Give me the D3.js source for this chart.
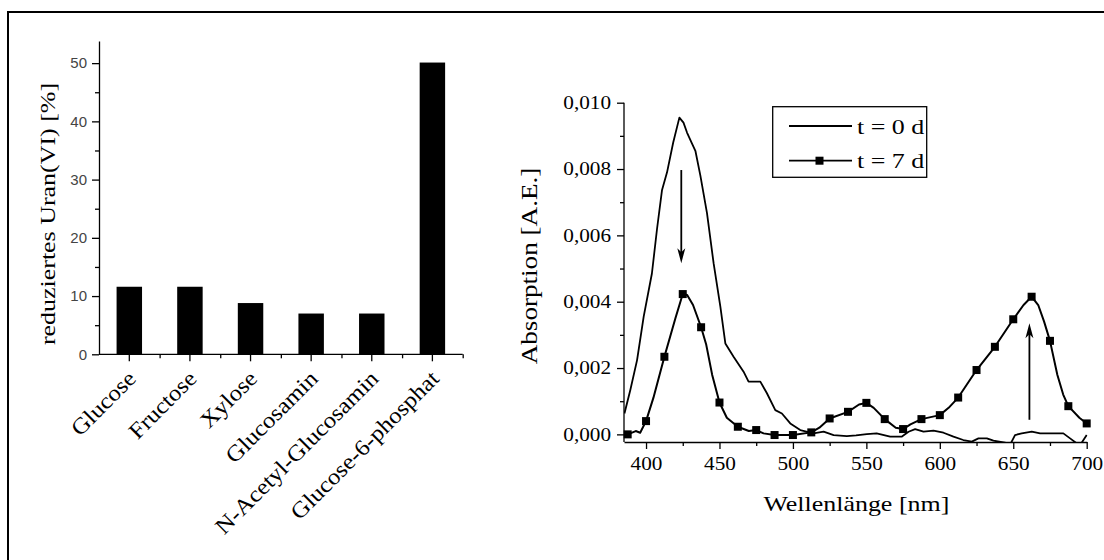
<!DOCTYPE html>
<html>
<head>
<meta charset="utf-8">
<script src="https://cdn.jsdelivr.net/npm/d3@7"></script>
<style>
  html, body { margin: 0; padding: 0; background: #fff; }
  svg { display: block; }
</style>
</head>
<body>
<svg id="chart" width="1104" height="560"></svg>
<script>
// ---------- data ----------
const categories = ["Glucose", "Fructose", "Xylose", "Glucosamin", "N-Acetyl-Glucosamin", "Glucose-6-phosphat"];
const reducedUranium = [11.6, 11.6, 8.8, 7.0, 7.0, 50.1];
const barYTicks = [0, 10, 20, 30, 40, 50];
const barYMinorTicks = [5, 15, 25, 35, 45];
const barYTitle = "reduziertes Uran(VI) [%]";

const t0Wavelength = [385.3, 389.3, 393.9, 398.4, 404, 407.5, 410.9, 414.3, 418.5, 422.7, 425.5, 427.9, 431, 433.6, 437, 441.5, 446, 450.6, 454, 459.6, 466.4, 469.8, 477.8, 482.3, 488, 492.5, 498.2, 505, 514, 520.9, 527.7, 536.7, 543, 550.3, 557, 566.2, 574, 578.7, 583.2, 588.9, 595.7, 602.5, 609.3, 616, 621.8, 626.3, 632, 636.5, 644.4, 648, 651.2, 655.8, 662.6, 668.3, 672.8, 684.1, 688.7, 693.2, 696.6, 700];
const t0Absorption = [0.00063, 0.00134, 0.00224, 0.00355, 0.00485, 0.0062, 0.00737, 0.0079, 0.0088, 0.00955, 0.0094, 0.0091, 0.0088, 0.00855, 0.0078, 0.00667, 0.00516, 0.00385, 0.00274, 0.00234, 0.00189, 0.00159, 0.00159, 0.00124, 0.00073, 0.00063, 0.00033, 0.00013, 0.00003, 0.00008, -0.00002, -0.00005, -0.00003, 0.00001, 0.00003, -0.00007, -0.00007, 0.00008, 0.00016, 0.00008, 0.00011, 0.00005, -0.00007, -0.00017, -0.00022, -0.00012, -0.00012, -0.00019, -0.00025, -0.0003, -0.00002, 0.00003, 0.00008, 0.00003, 0.00003, 0.00003, -0.00012, -0.00027, -0.00025, -0.00002];

const t7Wavelength = [385, 387.5, 393, 396, 400, 405, 412.5, 420, 425, 428, 432, 437.5, 441, 445, 450, 455, 462.5, 470, 475, 480, 487.5, 500, 512.5, 518, 525, 537.5, 545, 550, 555, 562.5, 570, 575, 580, 587.5, 600, 606, 612.5, 625, 637.5, 650, 657, 662.5, 667, 671, 675, 680, 684, 687.5, 695, 700];
const t7Absorption = [0.00005, 0.0, 0.0001, 0.00005, 0.0004, 0.0011, 0.00234, 0.0035, 0.00423, 0.0042, 0.0039, 0.00323, 0.0027, 0.0018, 0.00096, 0.0005, 0.00023, 0.0001, 0.00013, 0.00003, -0.00002, -0.00002, 0.00006, 0.0002, 0.00048, 0.00068, 0.0009, 0.00095, 0.0008, 0.00046, 0.0002, 0.00016, 0.0003, 0.00046, 0.00058, 0.0008, 0.00111, 0.00194, 0.00264, 0.00347, 0.0039, 0.00415, 0.0039, 0.0034, 0.00282, 0.0018, 0.0012, 0.00085, 0.0005, 0.00033];
const t7MarkerWavelength = [387.5, 400, 412.5, 425, 437.5, 450, 462.5, 475, 487.5, 500, 512.5, 525, 537.5, 550, 562.5, 575, 587.5, 600, 612.5, 625, 637.5, 650, 662.5, 675, 687.5, 700];

const specXTicks = [400, 450, 500, 550, 600, 650, 700];
const specXTickLabels = ["400", "450", "500", "550", "600", "650", "700"];
const specXMinorTicks = [425, 475, 525, 575, 625, 675];
const specYTicks = [0, 0.002, 0.004, 0.006, 0.008, 0.010];
const specYTickLabels = ["0,000", "0,002", "0,004", "0,006", "0,008", "0,010"];
const specYMinorTicks = [0.001, 0.003, 0.005, 0.007, 0.009];
const specXTitle = "Wellenlänge [nm]";
const specYTitle = "Absorption [A.E.]";
const legendLabels = ["t = 0 d", "t = 7 d"];

// annotation arrows: [wavelength, from, to]
const arrowWavelength = [424, 661];
const arrowFrom = [0.00797, 0.00044];
const arrowTo = [0.00516, 0.00335];

// ---------- drawing ----------
const svg = d3.select("#chart");
const SX = 1.18; // horizontal text stretch of the original rendering
const serifFont = "'Liberation Serif', 'Times New Roman', serif";
const sansFont = "'Liberation Sans', Arial, sans-serif";

// frame
svg.append("line").attr("x1", 7).attr("x2", 1104).attr("y1", 12).attr("y2", 12)
  .attr("stroke", "#000").attr("stroke-width", 2);
svg.append("line").attr("x1", 8).attr("x2", 8).attr("y1", 11).attr("y2", 560)
  .attr("stroke", "#000").attr("stroke-width", 2);

// ===== Left: bar chart =====
const bx0 = 99, bx1 = 462.7, by0 = 354.3, by1 = 41;
const xBand = d3.scaleBand().domain(categories).range([bx0, bx1]).paddingInner(0.58).paddingOuter(0.29);
const yBar = d3.scaleLinear().domain([0, 53.8]).range([by0, by1]);
const xIdx = d3.scaleLinear().domain([0, categories.length]).range([bx0, bx1]);

const left = svg.append("g");
left.selectAll("rect.bar").data(categories).join("rect")
  .attr("class", "bar")
  .attr("x", d => xBand(d))
  .attr("width", xBand.bandwidth())
  .attr("y", (d, i) => yBar(reducedUranium[i]))
  .attr("height", (d, i) => yBar(0) - yBar(reducedUranium[i]))
  .attr("fill", "#000");

function styleAxis(g, w) {
  g.selectAll("path.domain").attr("stroke", "#000").attr("stroke-width", w);
  g.selectAll(".tick line").attr("stroke", "#000").attr("stroke-width", w);
}

const yAxisL = left.append("g").attr("transform", `translate(${bx0},0)`)
  .call(d3.axisLeft(yBar).tickValues(barYTicks).tickSize(7).tickSizeOuter(0).tickPadding(5));
yAxisL.selectAll("text").style("font-family", sansFont).style("font-size", "15px").attr("fill", "#444");
styleAxis(yAxisL, 1.3);
const yMinorL = left.append("g").attr("transform", `translate(${bx0},0)`)
  .call(d3.axisLeft(yBar).tickValues(barYMinorTicks).tickSize(4).tickFormat(""));
yMinorL.select("path.domain").remove();
styleAxis(yMinorL, 1.3);

const xAxisL = left.append("g").attr("transform", `translate(0,${by0})`)
  .call(d3.axisBottom(xBand).tickSize(7).tickSizeOuter(0).tickFormat(""));
styleAxis(xAxisL, 1.3);
xAxisL.select("path.domain").attr("d", `M${bx0},0H${bx1}`);
const xMinorL = left.append("g").attr("transform", `translate(0,${by0})`)
  .call(d3.axisBottom(xIdx).tickValues(d3.range(1, categories.length + 1)).tickSize(4).tickFormat(""));
xMinorL.select("path.domain").remove();
styleAxis(xMinorL, 1.3);

// category labels
left.selectAll("text.cat").data(categories).join("text")
  .attr("class", "cat")
  .attr("transform", d => `translate(${xBand(d) + xBand.bandwidth() / 2 + 8},380) rotate(-45) scale(1.1,1)`)
  .attr("text-anchor", "end")
  .style("font-family", serifFont).style("font-size", "22.5px")
  .text(d => d);

// y title
left.append("text")
  .attr("transform", `translate(55,214) rotate(-90) scale(${SX},1)`)
  .attr("text-anchor", "middle")
  .style("font-family", serifFont).style("font-size", "22px")
  .text(barYTitle);

// ===== Right: spectra =====
const sx0 = 624, sx1 = 1086.7, sy0 = 442, sy1 = 102.7;
const xS = d3.scaleLinear().domain([385, 700]).range([sx0, sx1]);
const yS = d3.scaleLinear().domain([-0.00023, 0.010]).range([sy0, sy1]);

const right = svg.append("g");
svg.append("defs").append("clipPath").attr("id", "plotclip")
  .append("rect").attr("x", sx0).attr("y", 90).attr("width", sx1 - sx0 + 1).attr("height", sy0 - 90);

const lineGen = d3.line().x(d => xS(d[0])).y(d => yS(d[1]));
const t0Data = t0Wavelength.map((w, i) => [w, t0Absorption[i]]);
const t7Data = t7Wavelength.map((w, i) => [w, t7Absorption[i]]);
const t7Markers = t7MarkerWavelength.map(w => [w, t7Absorption[t7Wavelength.indexOf(w)]]);

const plot = right.append("g").attr("clip-path", "url(#plotclip)");
plot.append("path").datum(t0Data).attr("d", lineGen)
  .attr("fill", "none").attr("stroke", "#000").attr("stroke-width", 1.8).attr("stroke-linejoin", "round");
plot.append("path").datum(t7Data).attr("d", lineGen)
  .attr("fill", "none").attr("stroke", "#000").attr("stroke-width", 2).attr("stroke-linejoin", "round");
const MS = 8;
right.selectAll("rect.mk").data(t7Markers).join("rect")
  .attr("class", "mk")
  .attr("x", d => xS(d[0]) - MS / 2).attr("y", d => yS(d[1]) - MS / 2)
  .attr("width", MS).attr("height", MS).attr("fill", "#000");

// axes
const yAxisR = right.append("g").attr("transform", `translate(${sx0},0)`)
  .call(d3.axisLeft(yS).tickValues(specYTicks).tickSize(7).tickSizeOuter(0).tickPadding(4)
    .tickFormat((d, i) => specYTickLabels[i]));
yAxisR.select("path.domain").attr("d", `M0,${sy0}V${sy1}`);
yAxisR.selectAll("text").style("font-family", serifFont).style("font-size", "18px")
  .attr("fill", "#000").attr("transform", `scale(${SX},1)`);
styleAxis(yAxisR, 1.3);
const yMinorR = right.append("g").attr("transform", `translate(${sx0},0)`)
  .call(d3.axisLeft(yS).tickValues(specYMinorTicks).tickSize(4).tickFormat(""));
yMinorR.select("path.domain").remove();
styleAxis(yMinorR, 1.3);

const xAxisR = right.append("g").attr("transform", `translate(0,${sy0})`)
  .call(d3.axisBottom(xS).tickValues(specXTicks).tickSize(7).tickSizeOuter(0).tickPadding(8)
    .tickFormat((d, i) => specXTickLabels[i]));
xAxisR.selectAll("text").style("font-family", serifFont).style("font-size", "18px")
  .attr("fill", "#000").attr("transform", `scale(${SX},1)`);
styleAxis(xAxisR, 1.3);
const xMinorR = right.append("g").attr("transform", `translate(0,${sy0})`)
  .call(d3.axisBottom(xS).tickValues(specXMinorTicks).tickSize(4).tickFormat(""));
xMinorR.select("path.domain").remove();
styleAxis(xMinorR, 1.3);

// titles
right.append("text")
  .attr("transform", `translate(${(sx0 + sx1) / 2 + 1},511) scale(${SX},1)`)
  .attr("text-anchor", "middle")
  .style("font-family", serifFont).style("font-size", "22px")
  .text(specXTitle);
right.append("text")
  .attr("transform", `translate(537,266) rotate(-90) scale(${SX},1)`)
  .attr("text-anchor", "middle")
  .style("font-family", serifFont).style("font-size", "23px")
  .text(specYTitle);

// arrows
arrowWavelength.forEach((w, i) => {
  const x = xS(w), yA = yS(arrowFrom[i]), yB = yS(arrowTo[i]);
  const dir = yB > yA ? 1 : -1;
  right.append("line").attr("x1", x).attr("x2", x).attr("y1", yA).attr("y2", yB - dir * 8)
    .attr("stroke", "#000").attr("stroke-width", 1.8);
  right.append("path")
    .attr("d", `M${x},${yB} L${x - 4},${yB - dir * 15} L${x},${yB - dir * 11} L${x + 4},${yB - dir * 15} Z`)
    .attr("fill", "#000");
});

// legend
const lg = right.append("g");
lg.append("rect").attr("x", 772.7).attr("y", 106.7).attr("width", 154).attr("height", 70.6)
  .attr("fill", "#fff").attr("stroke", "#000").attr("stroke-width", 1.3);
const legendRowY = [126, 160.7];
legendLabels.forEach((lab, i) => {
  const yy = legendRowY[i];
  lg.append("line").attr("x1", 789).attr("x2", 852).attr("y1", yy).attr("y2", yy)
    .attr("stroke", "#000").attr("stroke-width", 1.8);
  if (i === 1) {
    lg.append("rect").attr("x", 819.5 - MS / 2).attr("y", yy - MS / 2).attr("width", MS).attr("height", MS).attr("fill", "#000");
  }
  lg.append("text").attr("transform", `translate(857,${yy + 7.5}) scale(${SX},1)`)
    .style("font-family", serifFont).style("font-size", "22px")
    .text(lab);
});
</script>
</body>
</html>
